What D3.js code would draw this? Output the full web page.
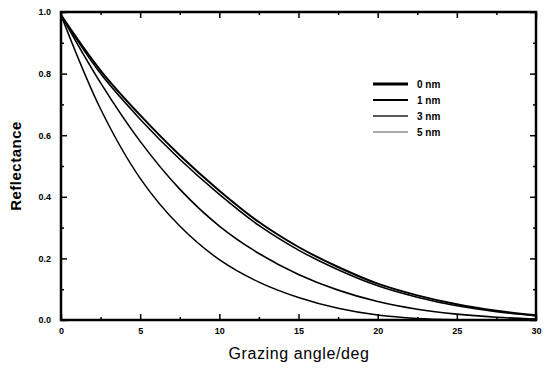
<!DOCTYPE html>
<html><head><meta charset="utf-8">
<script src="https://cdn.jsdelivr.net/npm/d3@7"></script>
<style>body{margin:0;background:#fff}svg{display:block}</style>
</head><body>
<svg id="c" width="545" height="370"></svg>
<script>
const angles = [0, 2.5, 5, 7.5, 10, 12.5, 15, 17.5, 20, 22.5, 25, 27.5, 30];
const r0nm = [0.99, 0.81, 0.665, 0.535, 0.42, 0.318, 0.237, 0.172, 0.118, 0.08, 0.051, 0.03, 0.015];
const r1nm = [0.99, 0.80, 0.652, 0.522, 0.408, 0.307, 0.227, 0.163, 0.111, 0.074, 0.046, 0.027, 0.013];
const r3nm = [0.99, 0.77, 0.58, 0.425, 0.305, 0.216, 0.148, 0.097, 0.06, 0.035, 0.019, 0.009, 0.003];
const r5nm = [0.99, 0.685, 0.46, 0.305, 0.196, 0.123, 0.073, 0.038, 0.016, 0.005, 0.001, 0, 0];
const seriesNames = ["0 nm", "1 nm", "3 nm", "5 nm"];
const xTicks = [0, 5, 10, 15, 20, 25, 30];
const yTicks = [0.0, 0.2, 0.4, 0.6, 0.8, 1.0];

const svg = d3.select("#c");
const L = 61, R = 536, T = 12, B = 320;
const x = d3.scaleLinear().domain([0, 30]).range([L, R]);
const y = d3.scaleLinear().domain([0, 1]).range([B, T]);

const curveStyles = [
  {w: 2.0, c: "#000"},
  {w: 1.6, c: "#000"},
  {w: 1.6, c: "#000"},
  {w: 1.5, c: "#000"}
];
const legendStyles = [
  {w: 2.8, c: "#000"},
  {w: 2.0, c: "#000"},
  {w: 1.5, c: "#222"},
  {w: 1.1, c: "#555"}
];
const data = [r0nm, r1nm, r3nm, r5nm];

const line = d3.line().x((d, i) => x(angles[i])).y(d => y(d)).curve(d3.curveCatmullRom.alpha(0.5));
svg.append("defs").append("clipPath").attr("id", "clip")
  .append("rect").attr("x", L).attr("y", T).attr("width", R - L).attr("height", B - T);
const g = svg.append("g").attr("clip-path", "url(#clip)");
[3, 2, 1, 0].forEach(k => {
  g.append("path").datum(data[k]).attr("d", line)
    .attr("fill", "none").attr("stroke", curveStyles[k].c).attr("stroke-width", curveStyles[k].w);
});

const minorX = d3.range(2.5, 30, 5);
const minorY = d3.range(0.1, 1, 0.2);
const axB = d3.axisBottom(x).tickValues(xTicks).tickSizeInner(-6).tickSizeOuter(0).tickFormat(d3.format("d"));
const axL = d3.axisLeft(y).tickValues(yTicks).tickSizeInner(-6).tickSizeOuter(0).tickFormat(d3.format(".1f"));
const axT = d3.axisTop(x).tickValues(xTicks).tickSizeInner(-6).tickSizeOuter(0).tickFormat("");
const axR = d3.axisRight(y).tickValues(yTicks).tickSizeInner(-6).tickSizeOuter(0).tickFormat("");
const mB = d3.axisBottom(x).tickValues(minorX).tickSizeInner(-3).tickSizeOuter(0).tickFormat("");
const mL = d3.axisLeft(y).tickValues(minorY).tickSizeInner(-3).tickSizeOuter(0).tickFormat("");
const mT = d3.axisTop(x).tickValues(minorX).tickSizeInner(-3).tickSizeOuter(0).tickFormat("");
const mR = d3.axisRight(y).tickValues(minorY).tickSizeInner(-3).tickSizeOuter(0).tickFormat("");

function put(ax, tx, ty) {
  const a = svg.append("g").attr("transform", `translate(${tx},${ty})`).call(ax);
  a.select(".domain").remove();
  a.selectAll("line").attr("stroke", "#000").attr("stroke-width", 1.5);
  a.selectAll("text").attr("font-family", "Liberation Sans, Arial, sans-serif")
    .attr("font-size", 9).attr("font-weight", "bold").attr("fill", "#000");
  return a;
}
const ab = put(axB, 0, B);
ab.selectAll("text").attr("dy", "0").attr("y", 14);
const al = put(axL, L, 0);
al.selectAll("text").attr("x", -10);
put(axT, 0, T); put(axR, R, 0);
put(mB, 0, B); put(mL, L, 0); put(mT, 0, T); put(mR, R, 0);

svg.append("rect").attr("x", L).attr("y", T).attr("width", R - L).attr("height", B - T)
  .attr("fill", "none").attr("stroke", "#000").attr("stroke-width", 2.5);

const legY0 = 84, legDy = 16;
seriesNames.forEach((n, k) => {
  const yy = legY0 + k * legDy;
  svg.append("line").attr("x1", 373).attr("x2", 408).attr("y1", yy).attr("y2", yy)
    .attr("stroke", legendStyles[k].c).attr("stroke-width", legendStyles[k].w);
  svg.append("text").attr("x", 417).attr("y", yy + 3.5).text(n)
    .attr("font-family", "Liberation Sans, Arial, sans-serif").attr("font-size", 10)
    .attr("font-weight", "bold").attr("fill", "#000");
});

svg.append("text").attr("x", 299).attr("y", 359).attr("text-anchor", "middle")
  .attr("font-family", "Liberation Sans, Arial, sans-serif").attr("font-size", 16)
  .attr("letter-spacing", 0.6).attr("fill", "#000").text("Grazing angle/deg");
svg.append("text").attr("transform", "translate(21,166) rotate(-90)").attr("text-anchor", "middle")
  .attr("font-family", "Liberation Sans, Arial, sans-serif").attr("font-size", 15)
  .attr("font-weight", "bold").attr("letter-spacing", 0.5).attr("fill", "#000").text("Reflectance");
</script>
</body></html>
